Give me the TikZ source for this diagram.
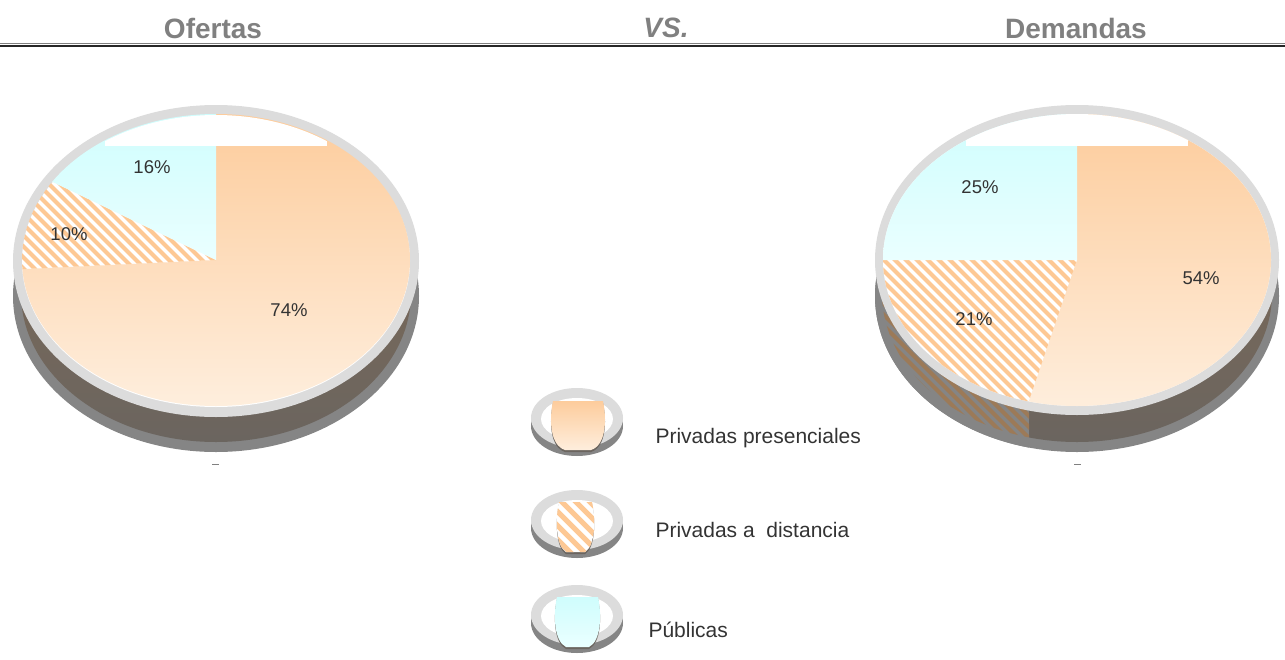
\documentclass[tikz,border=0pt]{standalone}
\usepackage{fontspec}
\setmainfont{Liberation Sans}
\definecolor{rim}{HTML}{DCDCDC}
\definecolor{sidegray}{HTML}{858585}
\definecolor{sidedark}{HTML}{6B655F}
\definecolor{sidebrown}{HTML}{806A55}
\definecolor{sidestripe}{HTML}{9C7A58}
\definecolor{peachtop}{HTML}{FDCC9C}
\definecolor{peachbot}{HTML}{FEEEDD}
\definecolor{cyantop}{HTML}{CFFDFD}
\definecolor{cyanbot}{HTML}{EAFFFF}
\definecolor{stripe}{HTML}{FDC894}
\definecolor{headgray}{HTML}{808080}
\definecolor{pcttext}{HTML}{333333}
\begin{document}
\begin{tikzpicture}[x=1pt,y=-1pt,
  head/.style={font=\fontsize{28}{32}\selectfont\bfseries, text=headgray},
  pct/.style={font=\fontsize{18.5}{22}\selectfont, text=pcttext},
  legtext/.style={font=\fontsize{21}{25}\selectfont, text=pcttext, anchor=west},
  peach/.style={top color=peachtop, bottom color=peachbot},
  aqua/.style={top color=cyantop, bottom color=cyanbot}]
\useasboundingbox (0,0) rectangle (1285,659);

\node[head] (of) at (213,28) {Ofertas};
\node[head, font=\fontsize{28}{32}\selectfont\bfseries\itshape] (vs) at (666,28) {VS.};
\node[head] (de) at (1076,28) {Demandas};
\draw[gray, line width=1] (0,43.5) -- (1285,43.5);
\draw[black!85, line width=2] (0,45.5) -- (1285,45.5);

% ofertas
\fill[sidegray] (216,296) ellipse [x radius=203, y radius=156];
\shade[top color=sidebrown, middle color=sidebrown, bottom color=sidedark] (216,293) ellipse [x radius=195, y radius=149];
\fill[rim] (216,261) ellipse [x radius=203, y radius=156];
\fill[white] (216,261) ellipse [x radius=194, y radius=146];
\shade[peach] (216,260) -- +(-90:194 and 146) arc[start angle=-90, end angle=176.4, x radius=194, y radius=146] -- cycle;
\begin{scope}
  \clip (216,260) -- +(176.4:194 and 146) arc[start angle=176.4, end angle=212.4, x radius=194, y radius=146] -- cycle;
  \foreach \i in {-200,-189,...,250}
    \draw[stripe, line width=4] (\i,100) -- ++(400,400);
\end{scope}
\shade[aqua] (216,260) -- +(212.4:194 and 146) arc[start angle=212.4, end angle=270, x radius=194, y radius=146] -- cycle;
\begin{scope}
  \clip (216,261) ellipse [x radius=194, y radius=146];
  \fill[white] (105,100) rectangle (327,146);
\end{scope}
\node[pct] (o16) at (152,167) {16\%};
\node[pct] (o10) at (69,234) {10\%};
\node[pct] (o74) at (289,310) {74\%};
\draw[gray, line width=1] (212,464) -- (219,464);

% demandas
\fill[sidegray] (1077,296) ellipse [x radius=202, y radius=156];
\shade[top color=sidebrown, middle color=sidebrown, bottom color=sidedark] (1077,293) ellipse [x radius=195, y radius=149];
\begin{scope}
  \clip (860,250) rectangle (1029,460);
  \clip (1077,296) ellipse [x radius=202, y radius=156];
  \fill[sidegray] (860,250) rectangle (1029,460);
  \clip (1077,293) ellipse [x radius=195, y radius=149];
  \foreach \i in {560,571,...,1080}
    \draw[sidestripe, line width=4] (\i,200) -- ++(300,300);
\end{scope}
\fill[rim] (1077,260) ellipse [x radius=202, y radius=155];
\fill[white] (1077,260) ellipse [x radius=194, y radius=146];
\shade[peach] (1077,260) -- +(-90:194 and 146) arc[start angle=-90, end angle=104.4, x radius=194, y radius=146] -- cycle;
\begin{scope}
  \clip (1077,260) -- +(104.4:194 and 146) arc[start angle=104.4, end angle=180, x radius=194, y radius=146] -- cycle;
  \foreach \i in {560,571,...,1080}
    \draw[stripe, line width=4] (\i,200) -- ++(300,300);
\end{scope}
\shade[aqua] (1077,260) -- +(180:194 and 146) arc[start angle=180, end angle=270, x radius=194, y radius=146] -- cycle;
\begin{scope}
  \clip (1077,260) ellipse [x radius=194, y radius=146];
  \fill[white] (966,100) rectangle (1188,146);
\end{scope}
\node[pct] (d25) at (980,187) {25\%};
\node[pct] (d21) at (974,319) {21\%};
\node[pct] (d54) at (1201,278) {54\%};
\draw[gray, line width=1] (1074,464) -- (1081,464);

% leyenda
\foreach \y in {418,520,615} {
  \fill[sidegray] (577,\y+8) ellipse [x radius=46, y radius=30];
  \fill[rim] (577,\y) ellipse [x radius=46, y radius=30];
  \fill[white] (577,\y+1) ellipse [x radius=36, y radius=21];
}
\fill[sidedark] (553,403) -- (603,403) .. controls (607,422) and (606,447) .. (591,452) -- (565,452) .. controls (550,447) and (549,422) .. cycle;
\shade[peach] (553,401) -- (603,401) .. controls (607,420) and (606,445) .. (591,450) -- (565,450) .. controls (550,445) and (549,420) .. cycle;
\fill[sidedark] (559,504) -- (592,504) .. controls (596,522) and (595,548) .. (585,554) -- (566,554) .. controls (556,548) and (555,522) .. cycle;
\begin{scope}
  \clip (559,502) -- (592,502) .. controls (596,520) and (595,546) .. (585,552) -- (566,552) .. controls (556,546) and (555,520) .. cycle;
  \fill[white] (550,495) rectangle (600,560);
  \foreach \i in {480,494,...,620}
    \draw[stripe, line width=5] (\i,490) -- ++(80,80);
\end{scope}
\fill[sidedark] (557,599) -- (598,599) .. controls (602,617) and (601,643) .. (589,649) -- (566,649) .. controls (554,643) and (553,617) .. cycle;
\shade[aqua] (557,597) -- (598,597) .. controls (602,615) and (601,641) .. (589,647) -- (566,647) .. controls (554,641) and (553,615) .. cycle;

\node[legtext] (lpp) at (652,438) {Privadas presenciales};
\node[legtext] (lpd) at (652,530) {Privadas a\ \ distancia};
\node[legtext] (lpu) at (645,630) {Públicas};
\end{tikzpicture}
\end{document}
